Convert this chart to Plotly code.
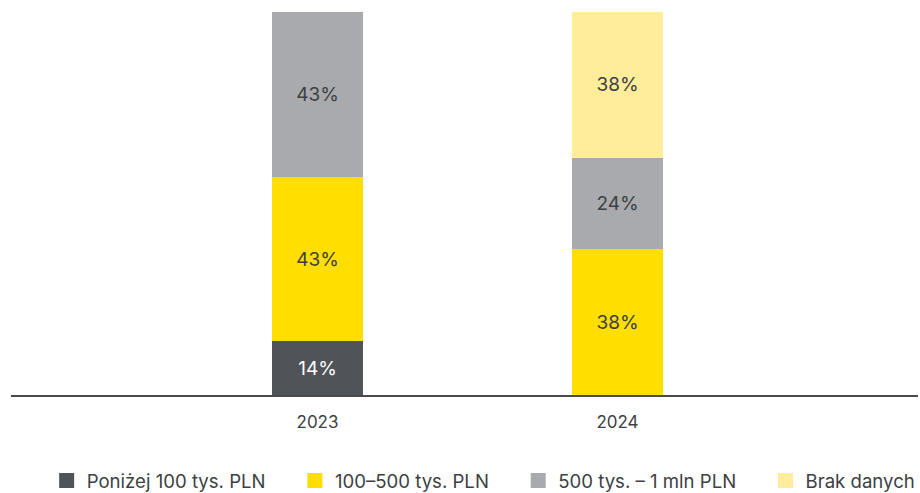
import plotly.graph_objects as go

years = ["2023", "2024"]
series_names = ["Poniżej 100 tys. PLN", "100–500 tys. PLN", "500 tys. – 1 mln PLN", "Brak danych"]
below_100k = [14, 0]
from_100k_to_500k = [43, 38]
from_500k_to_1m = [43, 24]
no_data = [0, 38]

colors = ["#505357", "#FFDE00", "#A8AAAD", "#FFED9B"]
label_colors = ["#FFFFFF", "#3D3F42", "#3D3F42", "#3D3F42"]
values = [below_100k, from_100k_to_500k, from_500k_to_1m, no_data]

FONT = "Inter, Roboto, sans-serif"
PAD = "\u00a0" * 4 + "\u2009"  # extra room between legend entries

fig = go.Figure()
for i, (name, vals, col, lc) in enumerate(zip(series_names, values, colors, label_colors)):
    fig.add_trace(go.Bar(
        x=years,
        y=vals,
        name=name,
        marker=dict(color=col, line=dict(width=0)),
        width=0.303,
        text=[f"{v}%" if v else "" for v in vals],
        textposition="inside",
        insidetextanchor="middle",
        textangle=0,
        textfont=dict(family=FONT, size=19, color=lc),
        showlegend=False,
        hoverinfo="skip",
    ))
    # legend entry with a square swatch
    last = i == len(series_names) - 1
    fig.add_trace(go.Scatter(
        x=[None], y=[None],
        mode="markers",
        name=name if last else name + PAD,
        marker=dict(symbol="square", size=15, color=col),
        showlegend=True,
    ))

fig.update_layout(
    barmode="stack",
    width=920,
    height=493,
    margin=dict(l=11, r=2, t=12, b=98, autoexpand=False),
    paper_bgcolor="white",
    plot_bgcolor="white",
    font=dict(family=FONT, color="#3D3F42"),
    uniformtext=dict(minsize=8, mode="show"),
    legend=dict(
        orientation="h",
        x=0.0393,
        xanchor="left",
        xref="paper",
        y=12 / 493,
        yref="container",
        yanchor="middle",
        font=dict(family=FONT, size=18.6, color="#3D3F42"),
        itemsizing="trace",
        traceorder="normal",
    ),
)
fig.update_xaxes(
    type="category",
    range=[-1.0217, 2.0017],
    showline=True,
    linecolor="#4A4A4A",
    linewidth=1.5,
    ticks="",
    showgrid=False,
    tickfont=dict(family=FONT, size=17, color="#3D3F42"),
    ticklabelstandoff=11,
)
fig.update_yaxes(
    range=[0, 100],
    visible=False,
    showgrid=False,
    zeroline=False,
)

fig.write_html("out.html")
